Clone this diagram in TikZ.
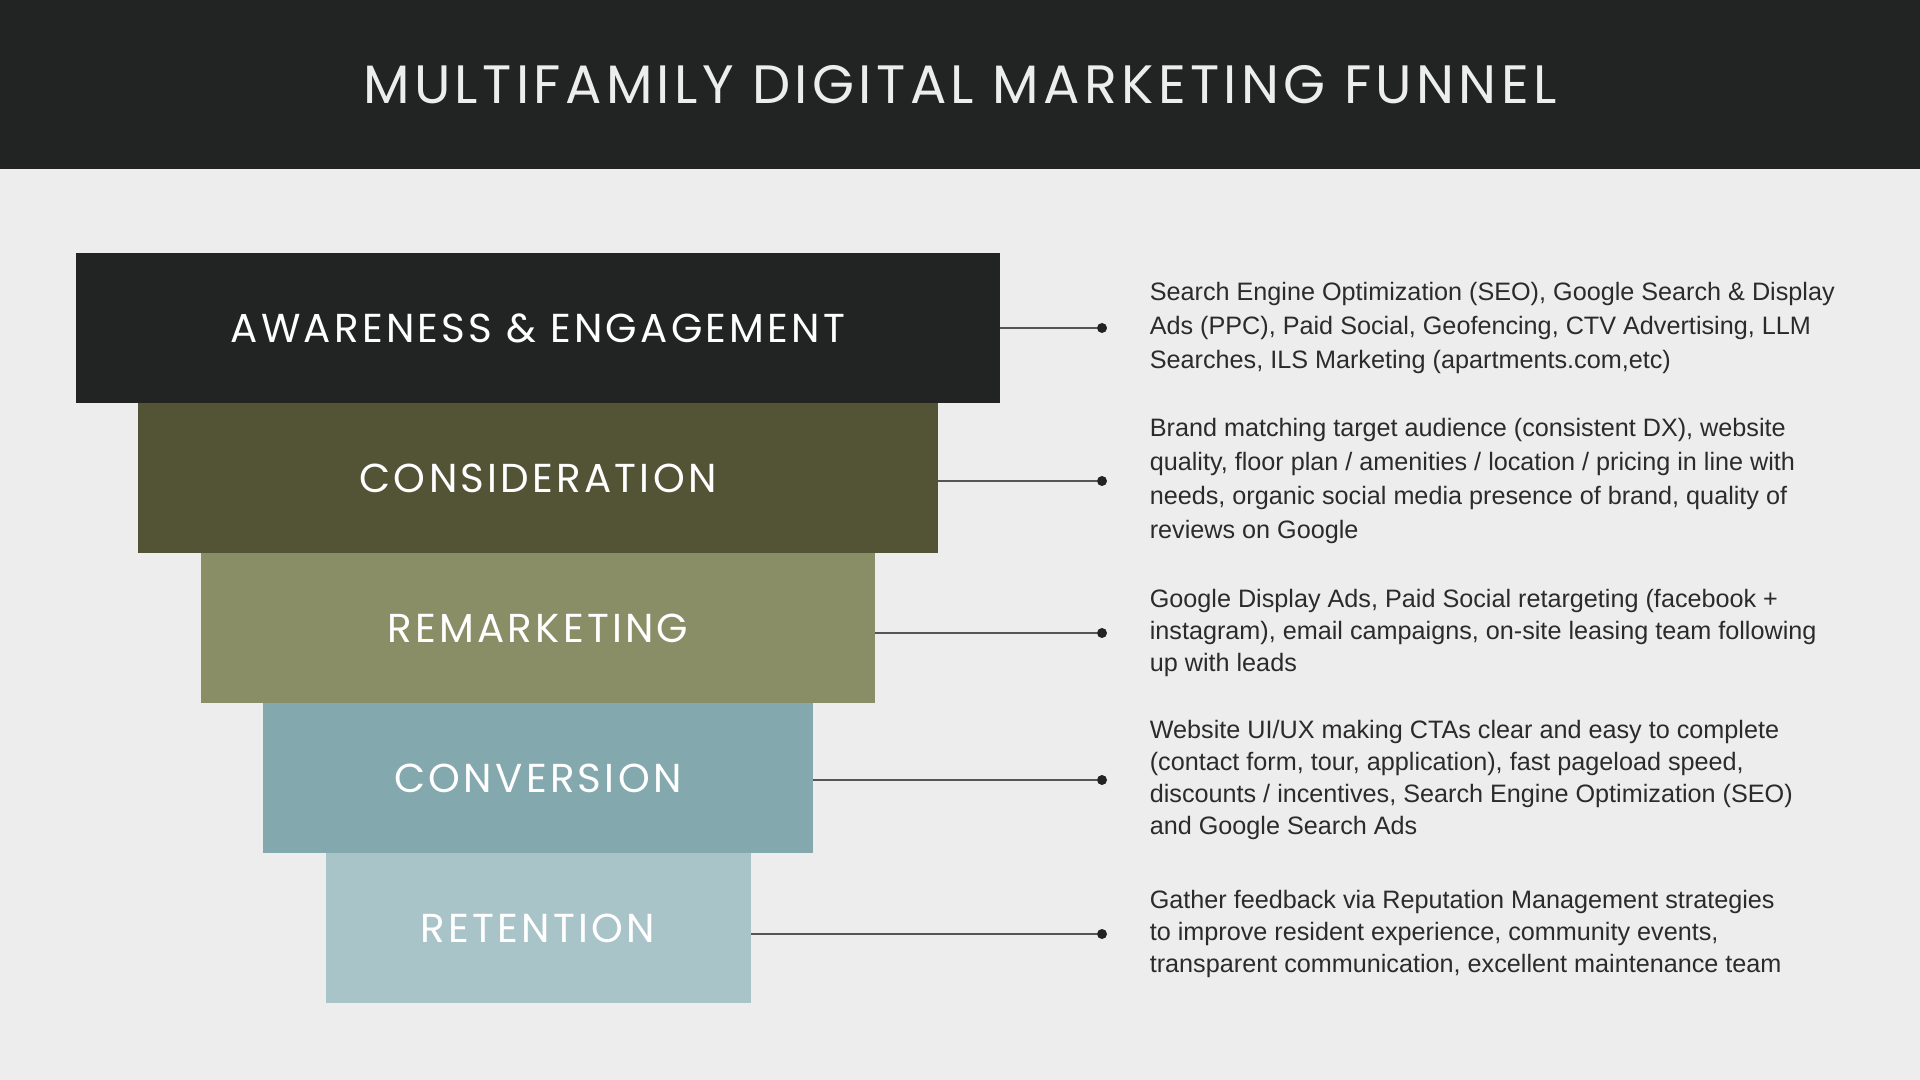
\documentclass[tikz,border=0pt]{standalone}
\usepackage{fontspec}
\setmainfont{Liberation Sans}
\newfontfamily\capsfont[LetterSpace=8]{Poppins}
\usepackage{tikz}
\usetikzlibrary{positioning}

\definecolor{bgpaper}{HTML}{EDEDED}
\definecolor{inkdark}{HTML}{222423}
\definecolor{olivedark}{HTML}{535436}
\definecolor{olivelight}{HTML}{898E66}
\definecolor{tealmid}{HTML}{83A8AD}
\definecolor{teallight}{HTML}{A9C4C9}
\definecolor{bodytext}{HTML}{2B2B2B}
\definecolor{railgray}{HTML}{555555}

\begin{document}
\begin{tikzpicture}[
        stage/.style={rectangle, minimum height=75pt, inner sep=0pt, outer sep=0pt,
                      text=white, font=\capsfont\fontsize{20.2}{20}\selectfont},
        dot/.style={circle, fill=inkdark, minimum size=5pt, inner sep=0pt},
        desc/.style={anchor=west, align=left, text=bodytext, inner sep=0pt,
                     font=\fontsize{12.6}{17}\selectfont},
        link/.style={draw=railgray, line width=0.75pt},
        heading/.style={text=bgpaper, font=\capsfont\fontsize{27}{27}\selectfont}
    ]
        % page and header band
        \fill[bgpaper] (0,0) rectangle (960pt,-540pt);
        \fill[inkdark] (0,0) rectangle (960pt,-84.5pt);
        \useasboundingbox (0,0) rectangle (960pt,-540pt);

        \node[heading] (title) at (480pt,-42.25pt) {MULTIFAMILY DIGITAL MARKETING FUNNEL};

        % funnel stages
        \node[stage, fill=inkdark, minimum width=462pt, anchor=north] (awareness) at (269pt,-126.5pt) {AWARENESS \& ENGAGEMENT};
        \node[stage, fill=olivedark, minimum width=400pt, below=0pt of awareness] (consideration) {CONSIDERATION};
        \node[stage, fill=olivelight, minimum width=337pt, below=0pt of consideration] (remarketing) {REMARKETING};
        \node[stage, fill=tealmid, minimum width=275pt, below=0pt of remarketing] (conversion) {CONVERSION};
        \node[stage, fill=teallight, minimum width=212.5pt, below=0pt of conversion] (retention) {RETENTION};

        % end points of the leader lines
        \coordinate (rail) at (551pt,0);
        \node[dot] (dotaware) at (awareness -| rail) {};
        \node[dot, yshift=-1.5pt] (dotconsider) at (consideration -| rail) {};
        \node[dot, yshift=-2.5pt] (dotremarket) at (remarketing -| rail) {};
        \node[dot, yshift=-1pt] (dotconvert) at (conversion -| rail) {};
        \node[dot, yshift=-3pt] (dotretain) at (retention -| rail) {};

        \draw[link] (awareness.east |- dotaware) -- (dotaware);
        \draw[link] (consideration.east |- dotconsider) -- (dotconsider);
        \draw[link] (remarketing.east |- dotremarket) -- (dotremarket);
        \draw[link] (conversion.east |- dotconvert) -- (dotconvert);
        \draw[link] (retention.east |- dotretain) -- (dotretain);

        % descriptions
        \node[desc, right=21pt of dotaware] (txtaware) {Search Engine Optimization (SEO), Google Search \& Display\\
            Ads (PPC), Paid Social, Geofencing, CTV Advertising, LLM\\
            Searches, ILS Marketing (apartments.com,etc)};
        \node[desc, right=21pt of dotconsider] (txtconsider) {Brand matching target audience (consistent DX), website\\
            quality, floor plan / amenities / location / pricing in line with\\
            needs, organic social media presence of brand, quality of\\
            reviews on Google};
        \node[desc, right=21pt of dotremarket, font=\fontsize{12.6}{16}\selectfont] (txtremarket) {Google Display Ads, Paid Social retargeting (facebook +\\
            instagram), email campaigns, on-site leasing team following\\
            up with leads};
        \node[desc, right=21pt of dotconvert, font=\fontsize{12.6}{16}\selectfont] (txtconvert) {Website UI/UX making CTAs clear and easy to complete\\
            (contact form, tour, application), fast pageload speed,\\
            discounts / incentives, Search Engine Optimization (SEO)\\
            and Google Search Ads};
        \node[desc, right=21pt of dotretain, font=\fontsize{12.6}{16}\selectfont] (txtretain) {Gather feedback via Reputation Management strategies\\
            to improve resident experience, community events,\\
            transparent communication, excellent maintenance team};
    \end{tikzpicture}
\end{document}
